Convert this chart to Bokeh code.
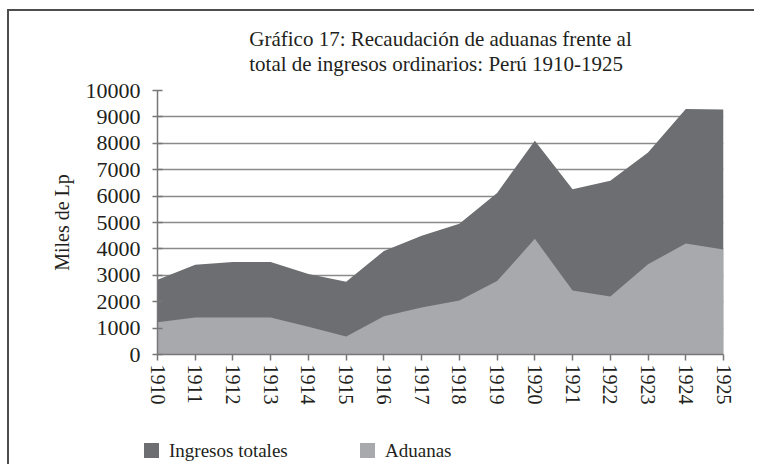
from bokeh.plotting import figure
from bokeh.models import Range1d, FixedTicker, ColumnDataSource, Div
from bokeh.layouts import column
from bokeh.embed import file_html
from bokeh.resources import INLINE

years = [1910, 1911, 1912, 1913, 1914, 1915, 1916, 1917, 1918, 1919, 1920, 1921, 1922, 1923, 1924, 1925]
ingresos_totales = [2830, 3400, 3500, 3500, 3050, 2760, 3920, 4500, 4950, 6120, 8100, 6260, 6580, 7650, 9300, 9280]
aduanas = [1220, 1400, 1400, 1400, 1050, 680, 1450, 1780, 2050, 2780, 4380, 2420, 2200, 3420, 4200, 3980]
y_ticks = [0, 1000, 2000, 3000, 4000, 5000, 6000, 7000, 8000, 9000, 10000]

title_text = "Gráfico 17: Recaudación de aduanas frente al\ntotal de ingresos ordinarios: Perú 1910-1925"
y_label = "Miles de Lp"
series_names = ["Ingresos totales", "Aduanas"]
colors = ["#6d6e71", "#a7a9ac"]

FONT = "Liberation Serif"
TXT = "#231f20"

src = ColumnDataSource(data=dict(x=years, total=ingresos_totales, adu=aduanas, zero=[0] * len(years)))

# ---------------- main chart ----------------
p = figure(width=745, height=403, output_backend="svg", toolbar_location=None,
           x_range=Range1d(years[0], years[-1]), y_range=Range1d(0, 10000),
           min_border_left=148, min_border_right=31, min_border_top=79, min_border_bottom=60)

r_total = p.varea(x="x", y1="zero", y2="total", source=src, fill_color=colors[0], fill_alpha=1)
r_adu = p.varea(x="x", y1="zero", y2="adu", source=src, fill_color=colors[1], fill_alpha=1)

p.title.text = title_text
p.title.align = "center"
p.title.text_font = FONT
p.title.text_font_size = "21px"
p.title.text_font_style = "normal"
p.title.text_color = TXT
p.title.text_line_height = 1.05
p.title.standoff = 28

p.outline_line_color = None
p.background_fill_color = "white"
p.border_fill_color = "white"

p.xgrid.grid_line_color = None
p.ygrid.ticker = FixedTicker(ticks=y_ticks)
p.ygrid.grid_line_color = "#8a8a8a"
p.ygrid.grid_line_width = 1.5

p.xaxis.ticker = FixedTicker(ticks=years)
p.xaxis.major_label_orientation = "vertical"
p.yaxis.ticker = FixedTicker(ticks=y_ticks)

for ax in [p.xaxis[0], p.yaxis[0]]:
    ax.axis_line_color = "#777777"
    ax.axis_line_width = 1.5
    ax.major_tick_line_color = "#777777"
    ax.major_tick_line_width = 1.5
    ax.minor_tick_line_color = None
    ax.major_label_text_font = FONT
    ax.major_label_text_color = TXT

p.xaxis.major_tick_out = 6
p.xaxis.major_tick_in = 0
p.xaxis.major_label_standoff = 4
p.xaxis.major_label_text_font_size = "20px"

p.yaxis.major_tick_out = 5
p.yaxis.major_tick_in = 5
p.yaxis.major_label_standoff = 12
p.yaxis.major_label_text_font_size = "22px"

p.yaxis.axis_label = y_label
p.yaxis.axis_label_text_font = FONT
p.yaxis.axis_label_text_font_size = "20px"
p.yaxis.axis_label_text_font_style = "normal"
p.yaxis.axis_label_text_color = TXT
p.yaxis.axis_label_standoff = 10

# ---------------- legend strip ----------------
item_left = [135, 351]   # layout: left edge of each legend swatch (px)
items_html = ""
for name, col, left in zip(series_names, colors, item_left):
    items_html += (
        f'<span style="position:absolute;left:{left}px;top:29px;width:15px;height:15px;'
        f'background:{col};"></span>'
        f'<span style="position:absolute;left:{left + 25}px;top:29px;line-height:15px;'
        f'white-space:nowrap;font-family:Liberation Serif, serif;font-size:19px;color:{TXT};">{name}</span>'
    )
legend_div = Div(
    text=f'<div style="position:relative;width:745px;height:50px;">{items_html}</div>',
    width=745, height=50, margin=0)

layout = column(p, legend_div, spacing=0,
                styles={"border-left": "2px solid #4d4d4d", "border-top": "2px solid #4d4d4d",
                        "margin-left": "7px", "margin-top": "9px"})

open("out.html", "w").write(file_html(layout, INLINE))
